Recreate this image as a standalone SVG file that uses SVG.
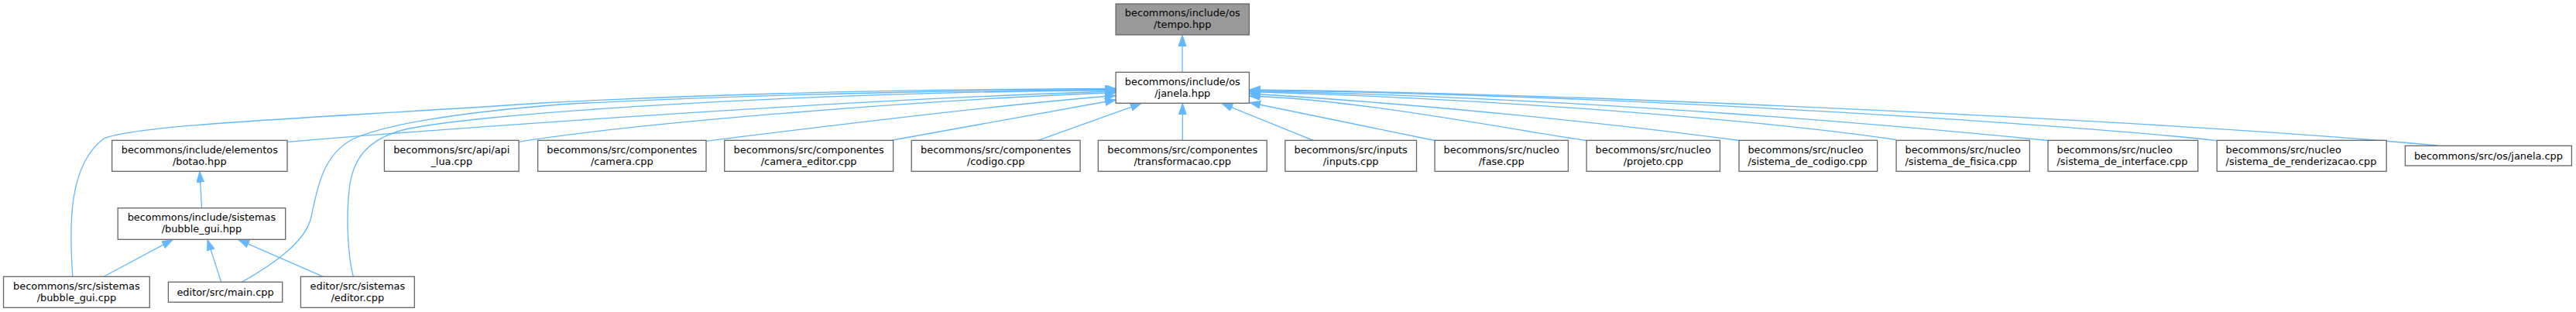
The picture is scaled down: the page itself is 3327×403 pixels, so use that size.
<svg xmlns="http://www.w3.org/2000/svg" width="3327" height="403" viewBox="0 0 3327 403">
<style>
.n rect{fill:#ffffff;stroke:#666666;stroke-width:1.3}
.root rect{fill:#999999}
text{font-family:"DejaVu Sans","Liberation Sans",sans-serif;font-size:12.9px;fill:#000000}
.c{text-anchor:middle}
.l{text-anchor:start}
.e{fill:none;stroke:#63b8ff;stroke-width:1.3;marker-end:url(#ah)}
</style>
<defs>
<marker id="ah" markerUnits="userSpaceOnUse" markerWidth="16" markerHeight="12" refX="14" refY="5" orient="auto">
<path d="M0,0 L14,5 L0,10 z" fill="#63b8ff" stroke="#63b8ff" stroke-width="1"/>
</marker>
</defs>
<rect x="0" y="0" width="3327" height="403" fill="#ffffff"/>
<g id="connectors">
<path class="e" d="M1527,93.3 L1527,45.5"/>
<path class="e" d="M1527.3,181.3 L1527.3,133.6"/>
<path class="e" d="M1340,181.7 L1474,133.6"/>
<path class="e" d="M1696.7,181.7 L1578,133.6"/>
<path class="e" d="M1853,181.5 L1614,132.5"/>
<path class="e" d="M2049,181.5 C1950,167 1750,128 1613.6,124"/>
<path class="e" d="M2246,181.5 C2100,162 1850,135 1613.6,121"/>
<path class="e" d="M2449,180.5 C2300,158 1950,128 1613.6,118.5"/>
<path class="e" d="M2645,181.5 C2480,165 2050,126 1613.6,117.5"/>
<path class="e" d="M2863.3,181.7 C2700,163 2100,122 1613.6,116.5"/>
<path class="e" d="M3148.3,188 C2800,156 2000,119 1613.6,116"/>
<path class="e" d="M1152.7,181 L1441,129"/>
<path class="e" d="M911.7,182.3 C1050,165 1300,134 1441,123.5"/>
<path class="e" d="M670,183.3 C800,162 1150,131 1441,119.5"/>
<path class="e" d="M371.4,183.3 C550,168 1100,128 1441,118"/>
<path class="e" d="M456.3,357.3 C449,330 447,280 451,245 C455,205 475,180 520,168 C600,148 1000,120 1441,116.5"/>
<path class="e" d="M312.5,364.3 C355,340 395,312 402,280 C410,240 418,200 455,180 C490,163 580,146 730,134.5 C950,123 1200,117 1441,115.5"/>
<path class="e" d="M93.75,357.3 C90,300 86,215 134,179 C180,160 420,152 700,133 C950,120 1200,115 1441,114.5"/>
<path class="e" d="M260.5,268.7 L258,221.6"/>
<path class="e" d="M134,357.3 L223,309.6"/>
<path class="e" d="M285.7,364.3 L268,309.6"/>
<path class="e" d="M417.4,357.3 L308,309.6"/>
</g>
<g id="n_tempo" class="n root"><rect x="1441.1" y="5" width="172.3" height="40"/><text class="c" x="1527.25" y="21.3">becommons/include/os</text><text class="c" x="1527.25" y="36.3">/tempo.hpp</text></g>
<g id="n_janela_hpp" class="n"><rect x="1441.1" y="93.3" width="172.3" height="40"/><text class="c" x="1527.25" y="109.6">becommons/include/os</text><text class="c" x="1527.25" y="124.6">/janela.hpp</text></g>
<g id="n_botao" class="n"><rect x="144.6" y="181.3" width="226.4" height="40"/><text class="c" x="257.8" y="197.6">becommons/include/elementos</text><text class="c" x="257.8" y="212.6">/botao.hpp</text></g>
<g id="n_api_lua" class="n"><rect x="496.4" y="181.3" width="173.7" height="40"/><text class="c" x="583.25" y="197.6">becommons/src/api/api</text><text class="c" x="583.25" y="212.6">_lua.cpp</text></g>
<g id="n_camera" class="n"><rect x="694.6" y="181.3" width="217.4" height="40"/><text class="c" x="803.3" y="197.6">becommons/src/componentes</text><text class="c" x="803.3" y="212.6">/camera.cpp</text></g>
<g id="n_camera_editor" class="n"><rect x="935.7" y="181.3" width="217.9" height="40"/><text class="c" x="1044.65" y="197.6">becommons/src/componentes</text><text class="c" x="1044.65" y="212.6">/camera_editor.cpp</text></g>
<g id="n_codigo" class="n"><rect x="1177.2" y="181.3" width="217.9" height="40"/><text class="c" x="1286.15" y="197.6">becommons/src/componentes</text><text class="c" x="1286.15" y="212.6">/codigo.cpp</text></g>
<g id="n_transformacao" class="n"><rect x="1418.3" y="181.3" width="217.9" height="40"/><text class="c" x="1527.25" y="197.6">becommons/src/componentes</text><text class="c" x="1527.25" y="212.6">/transformacao.cpp</text></g>
<g id="n_inputs" class="n"><rect x="1659.8" y="181.3" width="169.7" height="40"/><text class="c" x="1744.65" y="197.6">becommons/src/inputs</text><text class="c" x="1744.65" y="212.6">/inputs.cpp</text></g>
<g id="n_fase" class="n"><rect x="1853.1" y="181.3" width="172.3" height="40"/><text class="c" x="1939.25" y="197.6">becommons/src/nucleo</text><text class="c" x="1939.25" y="212.6">/fase.cpp</text></g>
<g id="n_projeto" class="n"><rect x="2049.1" y="181.3" width="172.3" height="40"/><text class="c" x="2135.25" y="197.6">becommons/src/nucleo</text><text class="c" x="2135.25" y="212.6">/projeto.cpp</text></g>
<g id="n_sistema_de_codigo" class="n"><rect x="2246" y="181.3" width="178.6" height="40"/><text class="l" x="2257.4" y="197.6">becommons/src/nucleo</text><text class="l" x="2257.4" y="212.6">/sistema_de_codigo.cpp</text></g>
<g id="n_sistema_de_fisica" class="n"><rect x="2449.1" y="181.3" width="172.3" height="40"/><text class="l" x="2460.5" y="197.6">becommons/src/nucleo</text><text class="l" x="2460.5" y="212.6">/sistema_de_fisica.cpp</text></g>
<g id="n_sistema_de_interface" class="n"><rect x="2645.1" y="181.3" width="193.6" height="40"/><text class="l" x="2656.5" y="197.6">becommons/src/nucleo</text><text class="l" x="2656.5" y="212.6">/sistema_de_interface.cpp</text></g>
<g id="n_sistema_de_renderizacao" class="n"><rect x="2863.3" y="181.3" width="218.9" height="40"/><text class="l" x="2874.6" y="197.6">becommons/src/nucleo</text><text class="l" x="2874.6" y="212.6">/sistema_de_renderizacao.cpp</text></g>
<g id="n_janela_cpp" class="n"><rect x="3106.4" y="188.3" width="215" height="25.7"/><text class="c" x="3213.9" y="205.6">becommons/src/os/janela.cpp</text></g>
<g id="n_bubble_gui_hpp" class="n"><rect x="152.2" y="268.7" width="216.5" height="40.6"/><text class="c" x="260.45" y="285.3">becommons/include/sistemas</text><text class="c" x="260.45" y="300.3">/bubble_gui.hpp</text></g>
<g id="n_bubble_gui_cpp" class="n"><rect x="4.5" y="357.3" width="188.8" height="40"/><text class="c" x="98.9" y="373.6">becommons/src/sistemas</text><text class="c" x="98.9" y="388.6">/bubble_gui.cpp</text></g>
<g id="n_main" class="n"><rect x="217.4" y="364.3" width="147.3" height="26"/><text class="c" x="291.05" y="381.6">editor/src/main.cpp</text></g>
<g id="n_editor" class="n"><rect x="388.4" y="357.3" width="146.9" height="40"/><text class="c" x="461.85" y="373.6">editor/src/sistemas</text><text class="c" x="461.85" y="388.6">/editor.cpp</text></g>
</svg>
